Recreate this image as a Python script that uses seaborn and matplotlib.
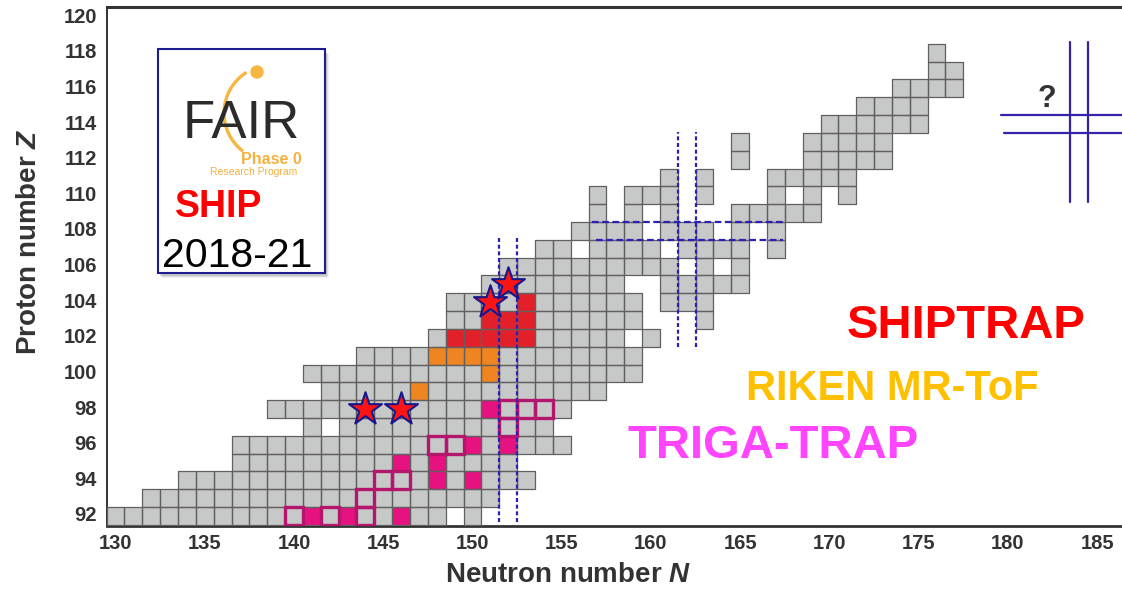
import numpy as np
import pandas as pd
import matplotlib
matplotlib.use("Agg")
import matplotlib.pyplot as plt
import seaborn as sns
from matplotlib.colors import ListedColormap
from matplotlib.patches import Rectangle, Arc, Circle
from matplotlib.collections import PatchCollection
import matplotlib.transforms as mtrans

# ---------------- data ----------------
# known nuclides, row segments: proton number Z, first N, last N
seg_z = [92, 92, 93, 94, 95, 96, 97, 97, 98, 99, 100, 101, 102, 102, 103, 103,
         104, 104, 105, 105, 106, 106, 106, 107, 107, 107, 107,
         108, 108, 108, 108, 109, 109, 109, 109, 110, 110, 110, 110, 110, 110,
         111, 111, 111, 112, 112, 113, 113, 114, 115, 116, 117, 118]
seg_n0 = [130, 150, 132, 134, 137, 137, 141, 143, 139, 142, 141, 144, 148, 160, 149, 163,
          149, 161, 151, 161, 152, 163, 165, 154, 157, 162, 167,
          156, 161, 165, 167, 157, 159, 161, 165, 157, 159, 163, 167, 169, 171,
          161, 163, 167, 165, 169, 165, 169, 170, 172, 174, 176, 176]
seg_n1 = [148, 150, 151, 153, 152, 155, 141, 154, 155, 157, 159, 159, 158, 160, 159, 163,
          159, 163, 158, 165, 161, 163, 165, 155, 160, 165, 167,
          159, 163, 165, 167, 157, 159, 161, 169, 157, 161, 163, 167, 169, 171,
          161, 163, 171, 165, 173, 165, 173, 175, 175, 177, 177, 176]

# SHIPTRAP (red)
red_n = [149, 150, 151, 152, 153, 151, 152, 153, 153]
red_z = [102, 102, 102, 102, 102, 103, 103, 103, 104]
# RIKEN MR-ToF (orange)
orange_n = [147, 151, 148, 149, 150, 151]
orange_z = [99, 100, 101, 101, 101, 101]
# TRIGA-TRAP measured (filled magenta)
pink_n = [141, 143, 146, 148, 150, 146, 148, 150, 152, 151]
pink_z = [92, 92, 92, 94, 94, 95, 95, 96, 96, 98]
# TRIGA-TRAP planned (open magenta squares)
open_n = [140, 142, 144, 144, 145, 146, 148, 149, 152, 152, 153, 154]
open_z = [92, 92, 92, 93, 94, 94, 96, 96, 97, 98, 98, 98]
# SHIP 2018-21 (stars)
star_n = [144, 146, 151, 152]
star_z = [98, 98, 104, 105]

# shell closures (dotted / solid double lines)
magic_n_known = 152
magic_n_def = 162
magic_z_def = 108
magic_n_island = 184
magic_z_island = 114

x_ticks = [130, 135, 140, 145, 150, 155, 160, 165, 170, 175, 180, 185]
y_ticks = [92, 94, 96, 98, 100, 102, 104, 106, 108, 110, 112, 114, 116, 118, 120]

# ---------------- grid ----------------
N_MIN, N_MAX = 130, 186
Z_MIN, Z_MAX = 92, 120
grid = np.full((Z_MAX - Z_MIN + 1, N_MAX - N_MIN + 1), np.nan)
for z, a, b in zip(seg_z, seg_n0, seg_n1):
    grid[z - Z_MIN, a - N_MIN:b - N_MIN + 1] = 0
for code, ns, zs in [(1, red_n, red_z), (2, orange_n, orange_z), (3, pink_n, pink_z)]:
    for n, z in zip(ns, zs):
        grid[z - Z_MIN, n - N_MIN] = code
df = pd.DataFrame(grid, index=range(Z_MIN, Z_MAX + 1), columns=range(N_MIN, N_MAX + 1))


def fx(n):
    return np.asarray(n, dtype=float) - N_MIN + 0.5


def fy(z):
    return np.asarray(z, dtype=float) - Z_MIN + 0.5


# ---------------- figure ----------------
sns.set_style("white")
plt.rcParams['font.family'] = ['Liberation Sans', 'DejaVu Sans']
plt.rcParams['mathtext.fontset'] = 'custom'
plt.rcParams['mathtext.it'] = 'Liberation Sans:italic:bold'
plt.rcParams['mathtext.rm'] = 'Liberation Sans:bold'

W, H = 1122, 589
fig = plt.figure(figsize=(W / 100, H / 100), dpi=100)
fig.patch.set_facecolor('white')
ax = fig.add_axes([106.6 / W, 1 - 525.7 / H, 1 - 106.6 / W, (525.7 - 7.3) / H])

cmap = ListedColormap(['#c7c8c8', '#e3202a', '#ef8520', '#e6127f'])
sns.heatmap(df, ax=ax, cmap=cmap, vmin=-0.5, vmax=3.5, cbar=False, linewidths=0)

# cell borders only around existing nuclides
zi, ni = np.nonzero(~np.isnan(grid))
borders = [Rectangle((j, i), 1, 1) for i, j in zip(zi, ni)]
ax.add_collection(PatchCollection(borders, facecolor='none', edgecolor='#606060',
                                  linewidth=0.9, zorder=3))

ax.set_xlim(0, fx(186.39))
ax.set_ylim(fy(91.455), fy(120.55))

# open squares
for n, z in zip(open_n, open_z):
    ax.add_patch(Rectangle((fx(n) - 0.5, fy(z) - 0.5), 1, 1, fill=False,
                           ec='#b3166c', lw=2.4, zorder=4))

# stars
sns.scatterplot(x=fx(star_n), y=fy(star_z), marker='*', s=620, color='#ff1414',
                edgecolor='#17178c', linewidth=1.5, ax=ax, zorder=6, legend=False)

# dotted shell lines (N=152)
dcol = '#2a20b4'
for off in (-0.5, 0.5):
    ax.plot([fx(magic_n_known + off)] * 2, [fy(91.68), fy(107.65)], color=dcol,
            lw=1.6, ls=(0, (1.8, 1.2)), zorder=5)
# deformed shell cross N=162 / Z=108
for off in (-0.5, 0.5):
    ax.plot([fx(magic_n_def + off)] * 2, [fy(101.5), fy(113.57)], color=dcol,
            lw=1.6, ls=(0, (1.8, 1.2)), zorder=5)
ax.plot([fx(156.68), fx(167.4)], [fy(magic_z_def + 0.5)] * 2, color=dcol, lw=1.6,
        ls=(0, (3, 1.6)), zorder=5)
ax.plot([fx(156.9), fx(167.4)], [fy(magic_z_def - 0.5)] * 2, color=dcol, lw=1.6,
        ls=(0, (3, 1.6)), zorder=5)
# island of stability cross
scol = '#3322aa'
for off in (-0.5, 0.5):
    ax.plot([fx(magic_n_island + off)] * 2, [fy(109.64), fy(118.6)], color=scol, lw=1.6, zorder=5)
ax.plot([fx(179.6), fx(186.6)], [fy(magic_z_island + 0.5)] * 2, color=scol, lw=1.6, zorder=5)
ax.plot([fx(179.8), fx(186.6)], [fy(magic_z_island - 0.5)] * 2, color=scol, lw=1.6, zorder=5)
ax.text(fx(182.2), fy(114.95), '?', ha='center', va='baseline', fontsize=22,
        fontweight='bold', color='#333333')

# axes styling
ax.set_xticks(fx(x_ticks))
ax.set_xticklabels([str(v) for v in x_ticks], rotation=0)
ax.set_yticks(fy(y_ticks))
ax.set_yticklabels([str(v) for v in y_ticks], rotation=0)
ax.tick_params(axis='both', length=0, labelsize=14.5, labelcolor='#333333')
ax.tick_params(axis='x', pad=6)
ax.tick_params(axis='y', pad=7)
for lab in ax.get_xticklabels() + ax.get_yticklabels():
    lab.set_fontweight('bold')
for side in ['left', 'bottom', 'top']:
    ax.spines[side].set_visible(True)
    ax.spines[side].set_color('#333333')
ax.spines['left'].set_linewidth(1.4)
ax.spines['bottom'].set_linewidth(2.0)
ax.spines['top'].set_linewidth(2.2)
ax.spines['right'].set_visible(False)
ax.set_xlabel('')
ax.set_ylabel('')

# pixel transform for annotations (x right, y down)
pix = mtrans.Affine2D().scale(1 / W, -1 / H).translate(0, 1) + fig.transFigure

fig.text(568, 582, r'Neutron number $\mathit{N}$', transform=pix, ha='center', va='baseline',
         fontsize=20, fontweight='bold', color='#333333')
fig.text(36.5, 242, r'Proton number $\mathit{Z}$', transform=pix, ha='center', va='baseline',
         rotation=90, rotation_mode='anchor', fontsize=20, fontweight='bold', color='#333333')

# legend-like labels
fig.text(966, 338.3, 'SHIPTRAP', transform=pix, ha='center', va='baseline', fontsize=34,
         fontweight='bold', color='#ff0000')
fig.text(892.5, 400, 'RIKEN MR-ToF', transform=pix, ha='center', va='baseline', fontsize=30,
         fontweight='bold', color='#ffc000')
fig.text(773, 458.3, 'TRIGA-TRAP', transform=pix, ha='center', va='baseline', fontsize=34,
         fontweight='bold', color='#ff45ff')

# FAIR / SHIP box
for i, a in enumerate([0.10, 0.08, 0.06]):
    fig.add_artist(Rectangle((158.3 + 2 + i, 49.3 + 3 + i), 166.7, 224, transform=pix,
                             fc='#000000', ec='none', alpha=a, zorder=2))
fig.add_artist(Rectangle((158.3, 49.3), 166.7, 224, transform=pix, fc='white',
                         ec='#1c1c96', lw=1.5, zorder=3))
fig.add_artist(Arc((272, 113), 96, 96, theta1=127, theta2=238, transform=pix,
                   color='#f6b640', lw=2.4, zorder=4))
fig.add_artist(Circle((257, 72), 6, transform=pix, color='#f6b640', zorder=4))
fig.text(241, 138, 'FAIR', transform=pix, ha='center', va='baseline', fontsize=38,
         color='#2b2b2b', family=['Liberation Sans', 'DejaVu Sans'], zorder=5)
fig.text(271, 164, 'Phase 0', transform=pix, ha='center', va='baseline', fontsize=11.5,
         fontweight='bold', color='#f4b13f', zorder=5)
fig.text(254, 175, 'Research Program', transform=pix, ha='center', va='baseline', fontsize=7.5,
         color='#f4b13f', zorder=5)
fig.text(219, 216.7, 'SHIP', transform=pix, ha='center', va='baseline', fontsize=27,
         fontweight='bold', color='#ff0000', zorder=5)
fig.text(237.5, 266.7, '2018-21', transform=pix, ha='center', va='baseline', fontsize=29.5,
         color='#000000', zorder=5)

fig.savefig('out.png', dpi=100, facecolor='white')
